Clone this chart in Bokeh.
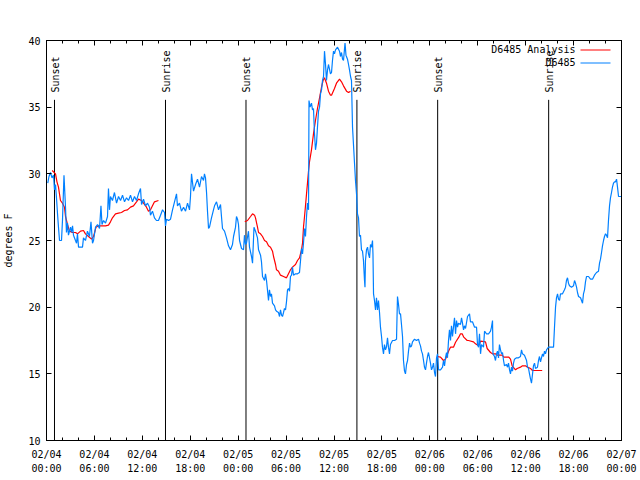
import numpy as np
from bokeh.plotting import figure
from bokeh.models import (FixedTicker, LinearAxis, Range1d, Label, BoxAnnotation,
                          CustomLabelingPolicy)
from bokeh.core.properties import value
from bokeh.embed import file_html
from bokeh.resources import INLINE

FONT = "DejaVu Sans Mono"
TITLE = "Dew Point for D6485 on 2025-Feb-04 (time in UTC)"
Y_LABEL = "degrees F"
SERIES_NAMES = ["D6485 Analysis", "D6485"]
SERIES_COLORS = ["#ff0000", "#0080ff"]

# x axis: hours after 02/04 00:00 UTC
x_tick_hours = [0, 6, 12, 18, 24, 30, 36, 42, 48, 54, 60, 66, 72]
x_tick_labels = ["02/04\n00:00", "02/04\n06:00", "02/04\n12:00", "02/04\n18:00",
                 "02/05\n00:00", "02/05\n06:00", "02/05\n12:00", "02/05\n18:00",
                 "02/06\n00:00", "02/06\n06:00", "02/06\n12:00", "02/06\n18:00",
                 "02/07\n00:00"]
x_minor_hours = [0, 2, 4, 6, 8, 10, 12, 14, 16, 18, 20, 22, 24, 26, 28, 30, 32, 34, 36,
                 38, 40, 42, 44, 46, 48, 50, 52, 54, 56, 58, 60, 62, 64, 66, 68, 70, 72]
y_ticks = [10, 15, 20, 25, 30, 35, 40]

sun_hours = [1.00, 14.90, 24.98, 38.87, 48.98, 62.88]
sun_names = ["Sunset", "Sunrise", "Sunset", "Sunrise", "Sunset", "Sunrise"]
sun_line_top = 35.55
sun_label_y = 36.1

# D6485 observations
obs_hours = [
    0.16, 0.31, 0.50, 0.69, 0.88, 1.00, 1.13, 1.25, 1.38, 1.50,
    1.63, 1.88, 2.00, 2.19, 2.38, 2.50, 2.63, 2.75, 3.01, 3.13,
    3.26, 3.38, 3.63, 3.76, 3.88, 4.01, 4.26, 4.51, 4.63, 4.88,
    5.13, 5.38, 5.57, 5.76, 5.89, 6.14, 6.39, 6.64, 6.82, 6.95,
    7.14, 7.39, 7.64, 7.76, 7.89, 8.01, 8.26, 8.51, 8.77, 9.02,
    9.27, 9.52, 9.77, 10.02, 10.27, 10.52, 10.77, 11.02, 11.27, 11.52,
    11.77, 11.90, 12.15, 12.40, 12.65, 12.90, 13.02, 13.27, 13.52, 13.77,
    14.02, 14.28, 14.53, 14.78, 14.90, 15.03, 15.28, 15.53, 15.78, 16.03,
    16.28, 16.40, 16.65, 16.90, 17.16, 17.41, 17.66, 17.91, 18.03, 18.16,
    18.41, 18.66, 18.91, 19.16, 19.41, 19.66, 19.78, 19.91, 20.04, 20.16,
    20.29, 20.41, 20.66, 20.91, 21.04, 21.29, 21.54, 21.79, 21.91, 22.04,
    22.29, 22.54, 22.79, 23.04, 23.29, 23.42, 23.67, 23.79, 23.92, 24.04,
    24.17, 24.42, 24.67, 24.79, 24.92, 25.04, 25.29, 25.42, 25.67, 25.80,
    25.98, 26.17, 26.42, 26.55, 26.80, 26.92, 27.05, 27.30, 27.42, 27.55,
    27.67, 27.80, 27.92, 28.05, 28.17, 28.30, 28.55, 28.68, 28.80, 29.05,
    29.18, 29.30, 29.43, 29.55, 29.68, 29.80, 29.93, 30.05, 30.18, 30.30,
    30.43, 30.55, 30.68, 30.80, 30.93, 31.18, 31.43, 31.68, 31.81, 31.93,
    32.06, 32.18, 32.31, 32.43, 32.56, 32.68, 32.81, 32.87, 33.00, 33.18,
    33.31, 33.43, 33.56, 33.68, 33.81, 33.93, 34.06, 34.19, 34.31, 34.44,
    34.56, 34.69, 34.81, 34.94, 35.06, 35.19, 35.31, 35.56, 35.69, 35.81,
    35.94, 36.06, 36.19, 36.44, 36.69, 36.81, 36.94, 37.07, 37.19, 37.38,
    37.50, 37.69, 37.82, 37.94, 38.07, 38.19, 38.32, 38.57, 38.69, 38.82,
    38.94, 39.07, 39.19, 39.32, 39.44, 39.57, 39.69, 39.82, 39.88, 39.94,
    40.07, 40.20, 40.32, 40.45, 40.57, 40.70, 40.82, 40.88, 40.95, 41.07,
    41.20, 41.32, 41.45, 41.57, 41.70, 41.82, 41.95, 42.07, 42.20, 42.32,
    42.45, 42.57, 42.70, 42.82, 42.95, 43.07, 43.33, 43.58, 43.83, 43.95,
    44.08, 44.20, 44.33, 44.45, 44.58, 44.70, 44.83, 44.95, 45.08, 45.21,
    45.33, 45.46, 45.58, 45.71, 45.83, 46.08, 46.33, 46.58, 46.71, 46.83,
    46.96, 47.08, 47.21, 47.33, 47.46, 47.58, 47.71, 47.83, 47.96, 48.08,
    48.21, 48.34, 48.46, 48.59, 48.71, 48.84, 48.96, 49.09, 49.34, 49.59,
    49.71, 49.84, 49.96, 50.09, 50.21, 50.34, 50.46, 50.59, 50.71, 50.84,
    50.96, 51.09, 51.22, 51.34, 51.47, 51.59, 51.84, 51.97, 52.09, 52.22,
    52.34, 52.47, 52.72, 52.97, 53.09, 53.34, 53.60, 53.85, 53.97, 54.10,
    54.22, 54.35, 54.47, 54.72, 54.85, 55.10, 55.35, 55.60, 55.72, 55.85,
    55.91, 56.10, 56.22, 56.35, 56.47, 56.60, 56.72, 56.85, 56.98, 57.10,
    57.23, 57.35, 57.60, 57.73, 57.85, 57.98, 58.10, 58.23, 58.35, 58.48,
    58.60, 58.85, 59.10, 59.35, 59.48, 59.60, 59.85, 60.11, 60.23, 60.36,
    60.48, 60.61, 60.73, 60.86, 60.98, 61.11, 61.23, 61.48, 61.61, 61.73,
    61.86, 61.98, 62.11, 62.23, 62.36, 62.48, 62.61, 62.73, 62.86, 63.24,
    63.49, 63.61, 63.74, 63.86, 63.99, 64.11, 64.24, 64.36, 64.61, 64.86,
    64.99, 65.11, 65.24, 65.36, 65.49, 65.74, 65.99, 66.12, 66.24, 66.37,
    66.49, 66.62, 66.87, 67.12, 67.24, 67.37, 67.49, 67.62, 67.87, 68.12,
    68.37, 68.62, 68.87, 69.12, 69.25, 69.37, 69.50, 69.62, 69.75, 69.87,
    70.00, 70.12, 70.25, 70.37, 70.50, 70.62, 70.75, 70.87, 71.00, 71.13,
    71.25, 71.38, 71.50, 71.63, 72.00,
]
obs_dewpt = [
    29.3, 29.8, 30.1, 29.7, 29.9, 28.8, 29.2, 28.2, 27.0, 26.0,
    25.0, 25.0, 26.5, 29.9, 27.5, 25.6, 26.3, 25.4, 26.0, 25.6,
    26.1, 25.4, 25.0, 24.8, 25.5, 24.5, 24.5, 24.5, 25.2, 25.0,
    25.7, 25.3, 26.4, 24.8, 25.0, 26.0, 26.2, 25.9, 27.6, 26.2,
    26.5, 26.3, 26.8, 28.9, 27.3, 28.3, 28.0, 28.6, 27.8, 28.3,
    28.0, 28.4, 27.9, 28.2, 28.0, 28.4, 27.9, 28.3, 28.0, 28.5,
    28.9, 27.7, 28.1, 27.6, 27.8, 27.5, 26.9, 27.2, 26.7, 26.5,
    26.5, 26.9, 27.3, 27.1, 26.1, 26.6, 26.5, 26.6, 27.3, 27.9,
    28.5, 27.6, 27.8, 27.2, 27.5, 27.2, 27.8, 27.3, 28.3, 30.0,
    28.7, 29.2, 29.6, 29.0, 29.8, 29.5, 30.0, 29.7, 28.6, 27.2,
    25.9, 26.0, 26.7, 27.3, 27.6, 27.9, 27.3, 27.7, 26.8, 25.9,
    25.7, 25.2, 24.6, 24.3, 24.7, 25.3, 26.0, 26.8, 26.6, 26.2,
    25.0, 24.4, 24.3, 25.4, 24.7, 24.8, 25.7, 24.5, 23.8, 23.3,
    26.0, 25.7, 25.2, 24.3, 23.9, 23.4, 22.3, 22.0, 22.5, 22.0,
    21.3, 20.5, 21.3, 20.8, 21.0, 20.3, 20.1, 19.8, 19.7, 19.6,
    19.3, 19.8, 19.4, 19.3, 19.6, 19.9, 19.8, 20.4, 21.3, 21.4,
    21.2, 22.3, 22.4, 23.0, 22.4, 22.5, 22.5, 22.6, 23.5, 24.4,
    24.0, 24.8, 25.9, 25.3, 26.8, 27.8, 27.3, 35.5, 35.0, 35.3,
    34.8, 34.9, 33.0, 31.8, 32.3, 33.5, 34.7, 35.0, 36.0, 36.3,
    37.0, 37.3, 39.2, 38.2, 37.0, 37.8, 38.2, 37.5, 37.6, 38.5,
    39.2, 39.0, 39.3, 39.5, 39.2, 38.8, 39.1, 38.6, 38.5, 39.8,
    38.9, 38.6, 38.2, 37.8, 37.3, 37.0, 33.5, 30.8, 29.5, 28.5,
    27.0, 26.7, 25.3, 25.4, 24.3, 24.2, 23.5, 22.0, 21.5, 23.5,
    24.3, 24.5, 24.0, 23.7, 24.7, 24.5, 25.0, 24.0, 21.0, 20.5,
    19.8, 20.7, 19.8, 20.5, 19.6, 18.5, 17.8, 17.0, 16.5, 17.2,
    16.8, 17.0, 17.7, 17.0, 16.5, 17.2, 17.5, 17.5, 17.6, 20.8,
    20.2, 19.5, 19.5, 18.7, 17.8, 16.0, 15.2, 15.0, 15.7, 16.0,
    16.7, 17.3, 17.0, 17.1, 17.4, 17.6, 17.5, 17.6, 17.3, 17.1,
    16.7, 16.5, 16.0, 15.5, 15.3, 15.8, 16.3, 16.6, 16.2, 15.8,
    15.3, 15.5, 15.8, 15.1, 14.8, 16.2, 16.5, 15.3, 15.3, 15.5,
    16.0, 15.6, 16.2, 16.6, 16.2, 17.5, 18.3, 17.5, 18.6, 17.8,
    18.5, 19.2, 18.0, 19.0, 18.5, 18.8, 18.7, 19.2, 18.8, 18.3,
    18.6, 18.4, 19.3, 19.5, 18.9, 18.9, 18.5, 18.5, 17.2, 17.0,
    18.0, 16.5, 17.2, 17.0, 18.2, 18.0, 18.0, 18.2, 18.5, 19.0,
    16.5, 16.3, 16.0, 16.5, 16.7, 16.2, 17.2, 16.8, 16.5, 16.6,
    16.0, 15.6, 15.7, 15.5, 15.8, 15.3, 15.0, 15.5, 15.2, 15.8,
    16.1, 16.2, 16.2, 16.3, 16.8, 16.5, 16.4, 16.0, 15.5, 15.4,
    15.0, 14.6, 14.3, 15.0, 15.6, 15.8, 15.4, 15.5, 16.0, 16.3,
    15.9, 16.2, 16.5, 16.3, 16.7, 16.5, 16.8, 16.9, 17.0, 17.0,
    17.0, 18.5, 20.0, 20.7, 21.0, 20.6, 20.5, 21.0, 21.0, 21.3,
    21.5, 22.0, 22.2, 21.8, 21.6, 21.5, 21.6, 22.0, 21.8, 21.5,
    21.1, 20.8, 20.7, 20.3, 21.0, 21.3, 21.9, 22.3, 22.3, 22.1,
    22.1, 22.4, 22.6, 22.7, 23.3, 23.6, 24.1, 24.6, 25.0, 25.3,
    25.5, 25.4, 25.2, 26.5, 27.6, 28.2, 28.6, 29.0, 29.3, 29.4,
    29.4, 29.6, 29.0, 28.3, 28.3,
]

# D6485 Analysis (three night-time runs)
ana1_hours = [0.71, 1.13, 1.31, 1.50, 1.75, 2.00, 2.25, 2.38, 2.63, 2.88,
              3.26, 3.63, 3.88, 4.26, 4.63, 4.88, 5.26, 5.64, 5.89, 6.20,
              6.51, 7.01, 7.39, 7.76, 8.01, 8.26, 8.64, 9.02, 9.39, 9.77,
              10.14, 10.52, 10.89, 11.27, 11.52, 11.90, 12.15, 12.52, 12.77, 13.02,
              13.27, 13.52, 14.02]
ana1_dewpt = [30.25, 30.0, 29.4, 29.0, 28.0, 27.8, 27.5, 26.8, 26.2, 25.7,
              25.6, 25.6, 25.5, 25.7, 25.75, 25.5, 25.3, 25.1, 25.3, 26.0,
              26.1, 26.1, 26.1, 26.15, 26.4, 26.7, 27.0, 27.05, 27.1, 27.25,
              27.3, 27.5, 27.6, 27.9, 28.1, 28.0, 27.8, 27.5, 27.2, 27.3,
              27.6, 27.9, 28.0]
ana2_hours = [24.83, 25.17, 25.55, 25.80, 26.05, 26.17, 26.42, 26.55, 26.80, 27.05,
              27.30, 27.55, 27.80, 28.05, 28.30, 28.43, 28.68, 28.80, 29.05, 29.30,
              29.68, 30.05, 30.30, 30.55, 30.80, 31.18, 31.43, 31.68, 31.93, 32.06,
              32.18, 32.31, 32.43, 32.56, 32.68, 32.81, 32.93, 33.18, 33.43, 33.68,
              33.93, 34.19, 34.44, 34.63, 34.81, 35.06, 35.31, 35.56, 35.69, 36.06,
              36.31, 36.69, 36.94, 37.19, 37.57, 37.82, 38.07]
ana2_dewpt = [26.4, 26.5, 26.8, 27.0, 26.9, 26.7, 26.0, 25.6, 25.5, 25.3,
              25.0, 24.9, 24.6, 24.5, 24.2, 23.8, 23.2, 22.8, 22.7, 22.4,
              22.3, 22.2, 22.5, 22.8, 23.0, 23.2, 23.5, 23.7, 24.3, 24.8,
              26.0, 26.8, 27.6, 28.5, 29.3, 30.2, 30.9, 31.8, 33.0, 34.0,
              34.9, 35.7, 36.5, 37.0, 37.2, 36.8, 36.2, 35.9, 35.9, 36.4,
              36.8, 37.1, 36.9, 36.6, 36.2, 36.1, 36.2]
ana3_hours = [48.92, 49.34, 49.71, 49.96, 50.38, 50.59, 50.96, 51.22, 51.63, 51.84,
              52.05, 52.25, 52.68, 52.84, 53.47, 53.72, 54.10, 54.35, 54.97, 55.18,
              55.60, 55.85, 56.22, 56.47, 57.06, 57.26, 57.89, 58.10, 58.31, 58.73,
              58.94, 59.35, 59.60, 59.98, 60.23, 60.61, 60.86, 61.36, 62.07]
ana3_dewpt = [16.3, 16.25, 16.0, 16.1, 16.75, 17.0, 17.0, 17.37, 17.75, 18.0,
              18.0, 17.75, 17.5, 17.5, 17.4, 17.25, 17.1, 17.45, 17.4, 16.9,
              16.6, 16.5, 16.5, 16.4, 16.4, 16.25, 16.25, 16.1, 15.6, 15.3,
              15.4, 15.5, 15.6, 15.6, 15.5, 15.4, 15.25, 15.25, 15.25]

p = figure(width=640, height=480, output_backend="svg", toolbar_location=None,
           x_range=Range1d(x_tick_hours[0], x_tick_hours[-1]),
           y_range=Range1d(y_ticks[0], y_ticks[-1]),
           min_border_left=46, min_border_right=19, min_border_top=40, min_border_bottom=40)
p.xgrid.visible = False
p.ygrid.visible = False
p.outline_line_color = "black"
p.outline_line_alpha = 1.0
p.background_fill_color = "white"
p.border_fill_color = "white"

no_labels = CustomLabelingPolicy(code="""
try { for (let i = 0; i < indices.size; i++) { indices.unset(i) } } catch (e) {}
return indices
""")
top_ax = LinearAxis(major_label_policy=no_labels)
right_ax = LinearAxis(major_label_policy=no_labels)
p.add_layout(top_ax, "above")
p.add_layout(right_ax, "right")

for ax in [p.below[0], top_ax]:
    ax.ticker = FixedTicker(ticks=x_tick_hours, minor_ticks=x_minor_hours)
for ax in [p.left[0], right_ax]:
    ax.ticker = FixedTicker(ticks=y_ticks, minor_ticks=[])

for ax in [p.below[0], p.left[0], top_ax, right_ax]:
    ax.axis_line_color = "black"
    ax.major_tick_line_color = "black"
    ax.minor_tick_line_color = "black"
    ax.major_tick_in = 5
    ax.major_tick_out = 0
    ax.minor_tick_in = 3
    ax.minor_tick_out = 0
    ax.major_label_text_font = FONT
    ax.major_label_text_font_size = "10px"
    ax.major_label_text_color = "black"

p.below[0].major_label_overrides = {h: lab for h, lab in zip(x_tick_hours, x_tick_labels)}
p.below[0].major_label_standoff = 8
p.below[0].major_label_text_line_height = 1.3
yax = p.left[0]
yax.major_label_standoff = 6
yax.axis_label = Y_LABEL
yax.axis_label_text_font = FONT
yax.axis_label_text_font_size = "10px"
yax.axis_label_text_font_style = "normal"
yax.axis_label_text_color = "black"
yax.axis_label_standoff = 11
for ax in [top_ax, right_ax]:
    ax.major_label_standoff = 0

# sunrise / sunset markers
n_sun = len(sun_hours)
p.segment(x0=sun_hours, y0=[y_ticks[0]] * n_sun, x1=sun_hours, y1=[sun_line_top] * n_sun,
          line_color="black", line_width=1)
p.text(x=sun_hours, y=[sun_label_y] * n_sun, text=sun_names, angle=np.pi / 2,
       text_align="left", text_baseline="middle", x_offset=1,
       text_font=value(FONT), text_font_size=value("10px"), text_color="black")

# series
for hrs, vals in [(ana1_hours, ana1_dewpt), (ana2_hours, ana2_dewpt), (ana3_hours, ana3_dewpt)]:
    p.line(hrs, vals, line_color=SERIES_COLORS[0], line_width=1.2)
p.line(obs_hours, obs_dewpt, line_color=SERIES_COLORS[1], line_width=1.2)

# legend (gnuplot style: text right-aligned, sample line to the right)
for i, (name, col) in enumerate(zip(SERIES_NAMES, SERIES_COLORS)):
    yy = 391 - 13 * i
    p.add_layout(Label(x=529, y=yy, x_units="screen", y_units="screen", text=name,
                       text_align="right", text_baseline="middle", text_font=FONT,
                       text_font_size="10px", text_color="black"))
    p.add_layout(BoxAnnotation(left=534, right=564, bottom=yy - 1, top=yy,
                               left_units="screen", right_units="screen",
                               bottom_units="screen", top_units="screen",
                               fill_color=col, fill_alpha=1.0, line_color=None))

# title
p.add_layout(Label(x=287, y=421, x_units="screen", y_units="screen", text=TITLE,
                   text_align="center", text_baseline="middle", text_font=FONT,
                   text_font_size="10px", text_color="black"))

open("out.html", "w").write(file_html(p, INLINE))
